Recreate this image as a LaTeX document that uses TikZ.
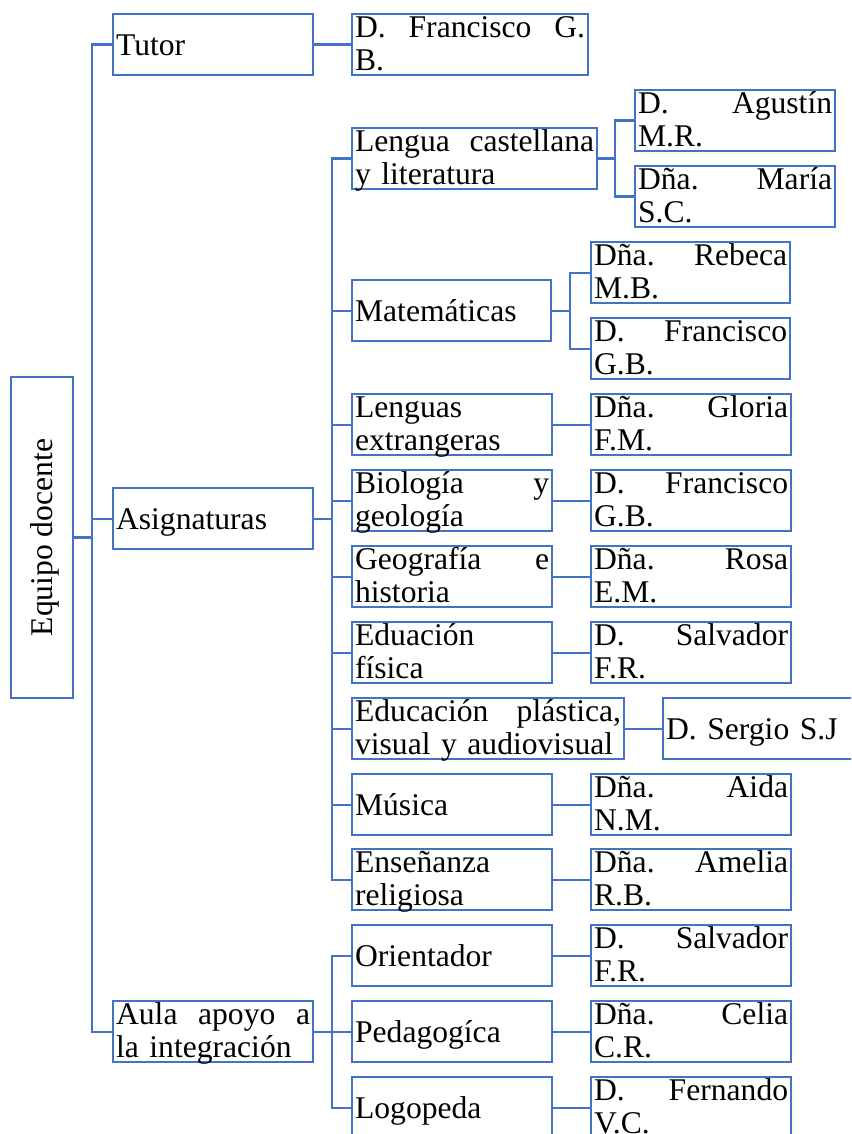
\documentclass[tikz,border=0pt]{standalone}
\usepackage{fontspec}
\setmainfont{Liberation Serif}
\usepackage{tikz}
\definecolor{azul}{HTML}{4472C4}

\begin{document}
\begin{tikzpicture}[x=0.5pt,y=-0.5pt]
		% Define box and line styles
		\tikzset{caja/.style={draw=azul, line width=1.1pt, inner xsep=1.5pt, inner ysep=0pt, anchor=north west, align=left, font=\fontsize{15.8}{16.5}\selectfont, text width=#1},
			caja/.default=97pt,
			una/.style={text height=20.5pt, text depth=10pt},
			dos/.style={text height=11.5pt, text depth=19pt},
			linea/.style={draw=azul, line width=1.1pt}}
		
		% Fix the page size
		\useasboundingbox (0,0) rectangle (851,1134);
		\clip (0,0) rectangle (851,1134);
		
		% Root box
		\node[draw=azul, line width=1.1pt, inner sep=0pt, rotate=90, minimum width=160.5pt, minimum height=31pt, text height=20.5pt, text depth=10pt, font=\fontsize{15.8}{16.5}\selectfont] (raiz) at (42,537.5) {Equipo docente};
		
		% First level
		\node[caja,una] (tutor) at (112,13) {Tutor};
		\node[caja,una] (asig) at (112,487) {Asignaturas};
		\node[caja,dos] (aula) at (112,1000) {Aula\hfill apoyo\hfill a\\la integración};
		\node[caja=115pt,dos] (pfran) at (351,13) {D.\hfill Francisco\hfill G.\\B.};
		
		% Subjects
		\node[caja=119.5pt,dos] (lengua) at (351,127) {Lengua\hfill castellana\\y literatura};
		\node[caja=96.5pt,una] (mate) at (351,279) {Matemáticas};
		\node[caja,dos] (lext) at (351,393) {Lenguas\\extrangeras};
		\node[caja,dos] (bio) at (351,469) {Biología\hfill y\\geología};
		\node[caja,dos] (geo) at (351,545) {Geografía\hfill e\\historia};
		\node[caja,dos] (efis) at (351,621) {Eduación\\física};
		\node[caja=133pt,dos] (eplas) at (351,697) {Educación\hfill plástica,\\visual y audiovisual};
		\node[caja,una] (musica) at (351,773) {Música};
		\node[caja,dos] (relig) at (351,848) {Enseñanza\\religiosa};
		\node[caja,una] (orient) at (351,924) {Orientador};
		\node[caja,una] (pedag) at (351,1000) {Pedagogíca};
		\node[caja,una] (logo) at (351,1076) {Logopeda};
		
		% Teachers
		\node[caja,dos] (agustin) at (634,89) {D.\hfill Agustín\\M.R.};
		\node[caja,dos] (maria) at (634,165) {Dña.\hfill María\\S.C.};
		\node[caja=96.5pt,dos] (rebeca) at (590,241) {Dña.\hfill Rebeca\\M.B.};
		\node[caja=96.5pt,dos] (franmat) at (590,317) {D.\hfill Francisco\\G.B.};
		\node[caja,dos] (gloria) at (590,393) {Dña.\hfill Gloria\\F.M.};
		\node[caja,dos] (franbio) at (590,469) {D.\hfill Francisco\\G.B.};
		\node[caja,dos] (rosa) at (590,545) {Dña.\hfill Rosa\\E.M.};
		\node[caja,dos] (salvef) at (590,621) {D.\hfill Salvador\\F.R.};
		\node[caja=104.5pt,una] (sergio) at (662,697) {D. Sergio S.J};
		\node[caja,dos] (aida) at (590,773) {Dña.\hfill Aida\\N.M.};
		\node[caja,dos] (amelia) at (590,848) {Dña.\hfill Amelia\\R.B.};
		\node[caja,dos] (salvor) at (590,924) {D.\hfill Salvador\\F.R.};
		\node[caja,dos] (celia) at (590,1000) {Dña.\hfill Celia\\C.R.};
		\node[caja,dos] (fernando) at (590,1076) {D.\hfill Fernando\\V.C.};
		
		% Branch lines
		\coordinate (tronco) at (92,0);
		\coordinate (rasig) at (332,0);
		\coordinate (rlen) at (615,0);
		\coordinate (rmat) at (570,0);
		
		\draw[linea] (tutor.west) -| (tronco |- aula.west) -- (aula.west);
		\draw[linea] (raiz.south) -- (raiz.south -| tronco);
		\draw[linea] (asig.west) -- (asig.west -| tronco);
		
		\draw[linea] (lengua.west) -| (rasig |- relig.west) -- (relig.west);
		\draw[linea] (asig.east) -- (asig.east -| rasig);
		\foreach \s in {mate,lext,bio,geo,efis,eplas,musica}
			\draw[linea] (\s.west) -- (\s.west -| rasig);
		
		\draw[linea] (orient.west) -| (rasig |- logo.west) -- (logo.west);
		\draw[linea] (aula.east) -- (pedag.west);
		
		\draw[linea] (lengua.east) -- (lengua.east -| rlen);
		\draw[linea] (agustin.west) -| (rlen |- maria.west) -- (maria.west);
		\draw[linea] (mate.east) -- (mate.east -| rmat);
		\draw[linea] (rebeca.west) -| (rmat |- franmat.west) -- (franmat.west);
		
		\foreach \a/\b in {tutor/pfran,lext/gloria,bio/franbio,geo/rosa,efis/salvef,eplas/sergio,musica/aida,relig/amelia,orient/salvor,pedag/celia,logo/fernando}
			\draw[linea] (\a.east) -- (\b.west);
	\end{tikzpicture}
\end{document}
